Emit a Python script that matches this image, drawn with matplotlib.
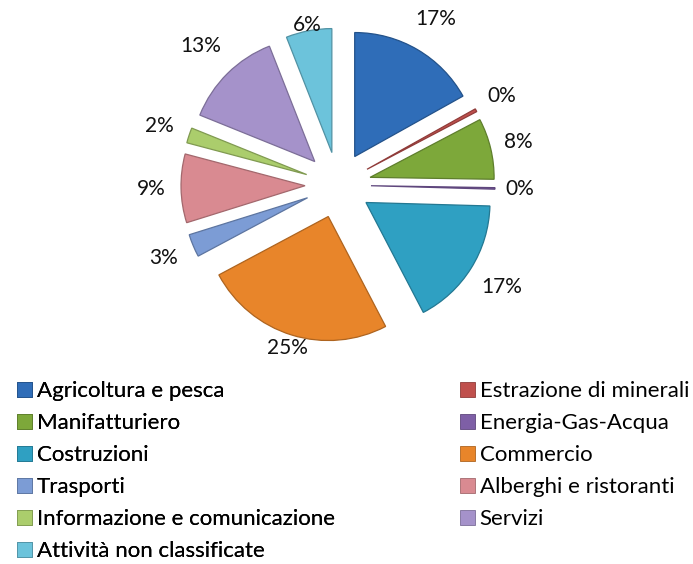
import math
import matplotlib
matplotlib.use("Agg")
import matplotlib.pyplot as plt
from matplotlib.patches import Patch

categories = ["Agricoltura e pesca", "Estrazione di minerali", "Manifatturiero",
              "Energia-Gas-Acqua", "Costruzioni", "Commercio", "Trasporti",
              "Alberghi e ristoranti", "Informazione e comunicazione", "Servizi",
              "Attività non classificate"]
values = [17, 0.4, 8, 0.2, 17, 25, 3, 9, 2, 13, 6]
colors = ["#2F6DB8", "#C0504D", "#7DA83A", "#7E5FA6", "#2FA0C2", "#E8852A",
          "#7C9CD5", "#D98A91", "#ABCD6C", "#A592CA", "#6CC3DB"]
edges = ["#23528A", "#903C3A", "#5E7E2C", "#5F477D", "#237892", "#AE641F",
         "#5D75A0", "#A3686D", "#809A51", "#7C6E98", "#5192A4"]
# label distance (in radii) from each exploded wedge's centre
label_dist = [1.29, 1.24, 1.23, 1.20, 1.29, 1.11, 1.26, 1.24, 1.25, 1.31, 1.05]

plt.rcParams['font.family'] = ['Lato', 'DejaVu Sans']

fig = plt.figure(figsize=(6.93, 5.64), dpi=100)
S = 180.0
R = 124.0
cx, cy = 338.0, 185.0
EXPL = 0.266
ax = fig.add_axes([(cx - S) / 693, (564 - cy - S) / 564, 2 * S / 693, 2 * S / 564])
wedges, texts, autotexts = ax.pie(values, colors=colors, startangle=90, counterclock=False,
                                  explode=[EXPL] * len(values), autopct='%.0f%%',
                                  pctdistance=1.2,
                                  wedgeprops=dict(linewidth=0.9),
                                  textprops=dict(fontsize=15, color="#111111"))
for w, e, t, d in zip(wedges, edges, autotexts, label_dist):
    w.set_edgecolor(e)
    th = math.radians((w.theta1 + w.theta2) / 2)
    r = EXPL + d
    t.set_position((r * math.cos(th), r * math.sin(th)))
lim = S / R
ax.set_xlim(-lim, lim)
ax.set_ylim(-lim, lim)
ax.set_aspect('equal')
ax.axis('off')

handles = [Patch(facecolor=c, edgecolor=e, linewidth=0.6) for c, e in zip(colors, edges)]
col1 = list(range(0, len(categories), 2))
col2 = list(range(1, len(categories), 2))
common = dict(frameon=False, loc='upper left', fontsize=16, handlelength=0.68,
              handleheight=0.68, handletextpad=0.2, labelspacing=0.54, borderpad=0,
              borderaxespad=0)
top = 1 - 381 / 564
leg1 = fig.legend([handles[i] for i in col1], [categories[i] for i in col1],
                  bbox_to_anchor=(17 / 693, top), **common)
fig.add_artist(leg1)
leg2 = fig.legend([handles[i] for i in col2], [categories[i] for i in col2],
                  bbox_to_anchor=(460 / 693, top), **common)

fig.savefig("out.png", dpi=100)
